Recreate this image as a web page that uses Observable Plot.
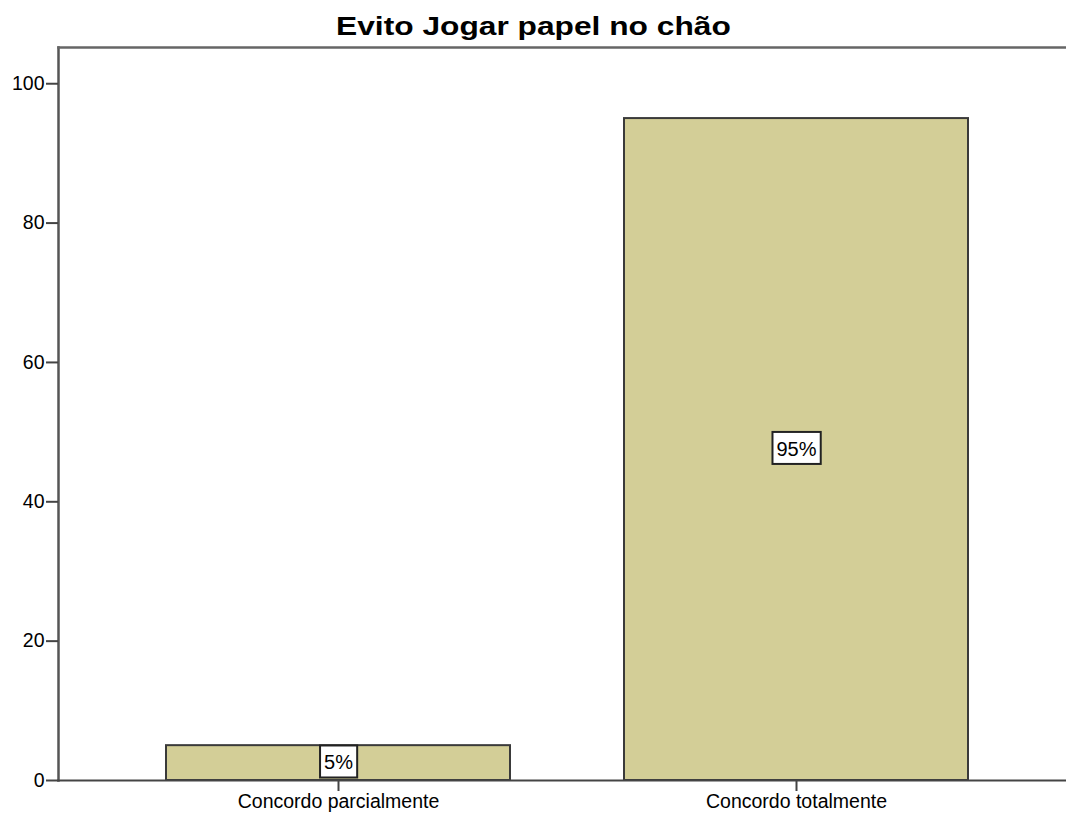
<!DOCTYPE html>
<html><head><meta charset="utf-8">
<script src="https://cdn.jsdelivr.net/npm/d3@7"></script>
<script src="https://cdn.jsdelivr.net/npm/@observablehq/plot@0.6"></script>
<style>
html,body{margin:0;padding:0;background:#fff;overflow:hidden}
#title{height:40px;position:relative;font-family:"Liberation Sans",Arial,sans-serif}
#title span{position:absolute;left:0;width:1066px;text-align:center;top:13px;font-weight:bold;font-size:26px;line-height:26px;color:#000;transform:scaleX(1.22);transform-origin:531px 0}
#chart svg{display:block}
</style></head><body>
<div id="title"><span>Evito Jogar papel no chão</span></div>
<div id="chart"></div>
<script>
const categories = ["Concordo parcialmente", "Concordo totalmente"];
const percents = [5, 95];
const barLabels = ["5%", "95%"];
const yTicks = [0, 20, 40, 60, 80, 100];
const yMax = 105.2;

const data = categories.map((c, i) => ({cat: c, pct: percents[i], label: barLabels[i]}));

const plot = Plot.plot({
  width: 1066,
  height: 774,
  marginLeft: 58,
  marginRight: 0,
  marginTop: 7,
  marginBottom: 34,
  style: {fontFamily: "Liberation Sans, Arial, sans-serif", fontSize: "19.5px", color: "#000", background: "#fff", overflow: "visible"},
  x: {domain: categories, range: [58, 1076], paddingInner: 0.25, paddingOuter: 0.236, label: null},
  y: {domain: [0, yMax], label: null},
  marks: [
    Plot.barY(data, {x: "cat", y: "pct", fill: "#D3CE97", stroke: "#3a3a3a", strokeWidth: 2}),
    Plot.frame({anchor: "left", stroke: "#555", strokeWidth: 2.5}),
    Plot.frame({anchor: "top", stroke: "#666", strokeWidth: 2.5}),
    Plot.frame({anchor: "bottom", stroke: "#444", strokeWidth: 2}),
    Plot.axisY({ticks: yTicks, tickSize: 12, tickPadding: 2, tickFormat: d => String(d), stroke: "#444", strokeWidth: 2, fontSize: 19.5}),
    Plot.axisX({tickSize: 11, tickPadding: 3, stroke: "#444", strokeWidth: 2, fontSize: 19.5}),
    Plot.text(data, {x: "cat", y: d => d.pct / 2, text: "label", fill: "#000", fontSize: 20})
  ]
});
document.getElementById("chart").appendChild(plot);

// white boxes behind the bar value labels
plot.querySelectorAll('g[aria-label="text"] text').forEach(t => {
  const b = t.getBBox();
  const r = document.createElementNS("http://www.w3.org/2000/svg", "rect");
  r.setAttribute("x", b.x - 4);
  r.setAttribute("y", b.y - 6);
  r.setAttribute("width", b.width + 8);
  r.setAttribute("height", b.height + 10);
  r.setAttribute("fill", "#fff");
  r.setAttribute("stroke", "#222");
  r.setAttribute("stroke-width", 2);
  const tr = t.getAttribute("transform");
  if (tr) r.setAttribute("transform", tr);
  t.parentNode.insertBefore(r, t);
});
</script>
</body></html>
